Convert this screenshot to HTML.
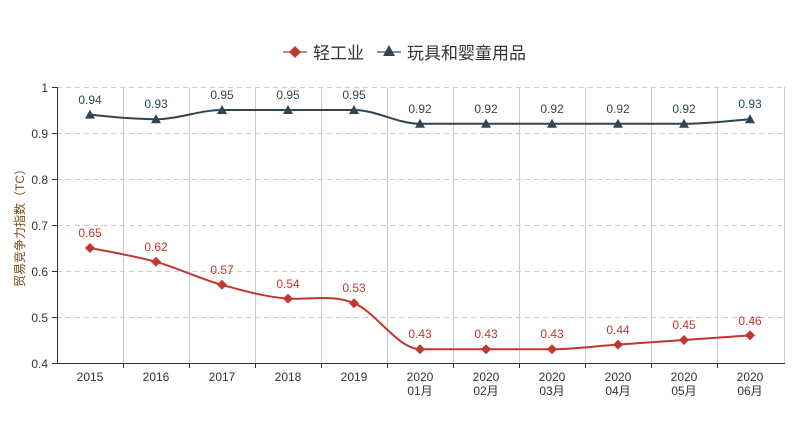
<!DOCTYPE html>
<html><head><meta charset="utf-8"><style>
html,body{margin:0;padding:0;background:#fff;}
svg text{font-family:"Liberation Sans","Noto Sans CJK SC",sans-serif;}
</style></head><body>
<svg width="808" height="416" xmlns="http://www.w3.org/2000/svg">
<g stroke="#ccc" stroke-dasharray="5,4" stroke-width="1">
<line x1="57" y1="87.5" x2="785" y2="87.5"/><line x1="57" y1="133.5" x2="785" y2="133.5"/>
<line x1="57" y1="179.5" x2="785" y2="179.5"/><line x1="57" y1="225.5" x2="785" y2="225.5"/>
<line x1="57" y1="271.5" x2="785" y2="271.5"/><line x1="57" y1="317.5" x2="785" y2="317.5"/>
</g>
<g stroke="#ccc" stroke-width="1">
<line x1="123.5" y1="87" x2="123.5" y2="363"/><line x1="189.5" y1="87" x2="189.5" y2="363"/>
<line x1="255.5" y1="87" x2="255.5" y2="363"/><line x1="321.5" y1="87" x2="321.5" y2="363"/>
<line x1="387.5" y1="87" x2="387.5" y2="363"/><line x1="453.5" y1="87" x2="453.5" y2="363"/>
<line x1="519.5" y1="87" x2="519.5" y2="363"/><line x1="585.5" y1="87" x2="585.5" y2="363"/>
<line x1="651.5" y1="87" x2="651.5" y2="363"/><line x1="717.5" y1="87" x2="717.5" y2="363"/>
<line x1="784.5" y1="87" x2="784.5" y2="363"/>
</g>
<g stroke="#333" stroke-width="1">
<line x1="57.5" y1="87" x2="57.5" y2="364"/><line x1="57" y1="363.5" x2="785" y2="363.5"/>
<line x1="52" y1="87.5" x2="57" y2="87.5"/><line x1="52" y1="133.5" x2="57" y2="133.5"/>
<line x1="52" y1="179.5" x2="57" y2="179.5"/><line x1="52" y1="225.5" x2="57" y2="225.5"/>
<line x1="52" y1="271.5" x2="57" y2="271.5"/><line x1="52" y1="317.5" x2="57" y2="317.5"/>
<line x1="52" y1="363.5" x2="57" y2="363.5"/>
<line x1="123.5" y1="363" x2="123.5" y2="368"/><line x1="189.5" y1="363" x2="189.5" y2="368"/>
<line x1="255.5" y1="363" x2="255.5" y2="368"/><line x1="321.5" y1="363" x2="321.5" y2="368"/>
<line x1="387.5" y1="363" x2="387.5" y2="368"/><line x1="453.5" y1="363" x2="453.5" y2="368"/>
<line x1="519.5" y1="363" x2="519.5" y2="368"/><line x1="585.5" y1="363" x2="585.5" y2="368"/>
<line x1="651.5" y1="363" x2="651.5" y2="368"/><line x1="717.5" y1="363" x2="717.5" y2="368"/>
</g>
<g font-size="12" fill="#333" text-anchor="end">
<text x="48" y="92">1</text><text x="48" y="138">0.9</text><text x="48" y="184">0.8</text>
<text x="48" y="230">0.7</text><text x="48" y="276">0.6</text><text x="48" y="322">0.5</text><text x="48" y="368">0.4</text>
</g>
<text transform="translate(24,225) rotate(-90)" font-size="12" fill="#7a4a1a" text-anchor="middle">贸易竞争力指数（TC）</text>
<g font-size="12" fill="#333" text-anchor="middle">
<text x="90" y="381">2015</text><text x="156" y="381">2016</text><text x="222" y="381">2017</text>
<text x="288" y="381">2018</text><text x="354" y="381">2019</text>
<text x="420" y="381">2020</text><text x="420" y="395">01月</text>
<text x="486" y="381">2020</text><text x="486" y="395">02月</text>
<text x="552" y="381">2020</text><text x="552" y="395">03月</text>
<text x="618" y="381">2020</text><text x="618" y="395">04月</text>
<text x="684" y="381">2020</text><text x="684" y="395">05月</text>
<text x="750" y="381">2020</text><text x="750" y="395">06月</text>
</g>
<path d="M90,114.6 C112,117 134,119.2 156,119.2 C178,119.2 200,110 222,110 L354,110 C376,110 398,123.8 420,123.8 L684,123.8 C706,123.8 728,121 750,119.2" fill="none" stroke="#2f4554" stroke-width="2"/>
<path d="M90,248 C112,252 134,256 156,261.8 C178,268 200,279 222,284.8 C244,291 266,297 288,298.6 C310,300 332,294 354,303.2 C376,312 398,349.2 420,349.2 L552,349.2 C574,349.2 596,346 618,344.6 C640,343 662,341.5 684,340 C706,338.5 728,337 750,335.4" fill="none" stroke="#c23531" stroke-width="2"/>
<g fill="#2f4554">
<path d="M90,109.6 l5,9 h-10z"/><path d="M156,114.2 l5,9 h-10z"/><path d="M222,105 l5,9 h-10z"/>
<path d="M288,105 l5,9 h-10z"/><path d="M354,105 l5,9 h-10z"/><path d="M420,118.8 l5,9 h-10z"/>
<path d="M486,118.8 l5,9 h-10z"/><path d="M552,118.8 l5,9 h-10z"/><path d="M618,118.8 l5,9 h-10z"/>
<path d="M684,118.8 l5,9 h-10z"/><path d="M750,114.2 l5,9 h-10z"/>
</g>
<g fill="#c23531">
<path d="M90,243 l5,5 -5,5 -5,-5z"/><path d="M156,256.8 l5,5 -5,5 -5,-5z"/><path d="M222,279.8 l5,5 -5,5 -5,-5z"/>
<path d="M288,293.6 l5,5 -5,5 -5,-5z"/><path d="M354,298.2 l5,5 -5,5 -5,-5z"/><path d="M420,344.2 l5,5 -5,5 -5,-5z"/>
<path d="M486,344.2 l5,5 -5,5 -5,-5z"/><path d="M552,344.2 l5,5 -5,5 -5,-5z"/><path d="M618,339.6 l5,5 -5,5 -5,-5z"/>
<path d="M684,335 l5,5 -5,5 -5,-5z"/><path d="M750,330.4 l5,5 -5,5 -5,-5z"/>
</g>
<g font-size="12" fill="#2f4554" text-anchor="middle">
<text x="90" y="104">0.94</text><text x="156" y="108">0.93</text><text x="222" y="99">0.95</text>
<text x="288" y="99">0.95</text><text x="354" y="99">0.95</text><text x="420" y="113">0.92</text>
<text x="486" y="113">0.92</text><text x="552" y="113">0.92</text><text x="618" y="113">0.92</text>
<text x="684" y="113">0.92</text><text x="750" y="108">0.93</text>
</g>
<g font-size="12" fill="#c23531" text-anchor="middle">
<text x="90" y="237">0.65</text><text x="156" y="251">0.62</text><text x="222" y="274">0.57</text>
<text x="288" y="288">0.54</text><text x="354" y="292">0.53</text><text x="420" y="338">0.43</text>
<text x="486" y="338">0.43</text><text x="552" y="338">0.43</text><text x="618" y="334">0.44</text>
<text x="684" y="329">0.45</text><text x="750" y="325">0.46</text>
</g>
<line x1="283" y1="52" x2="307" y2="52" stroke="#c23531" stroke-width="2" opacity="0.6"/>
<path d="M295,46 l6,6 -6,6 -6,-6z" fill="#c23531"/>
<text x="313" y="59" font-size="17" fill="#333">轻工业</text>
<line x1="377" y1="52" x2="401" y2="52" stroke="#2f4554" stroke-width="2" opacity="0.6"/>
<path d="M389,45 l6,11 h-12z" fill="#2f4554"/>
<text x="407" y="59" font-size="17" fill="#333">玩具和婴童用品</text>
</svg>
</body></html>
